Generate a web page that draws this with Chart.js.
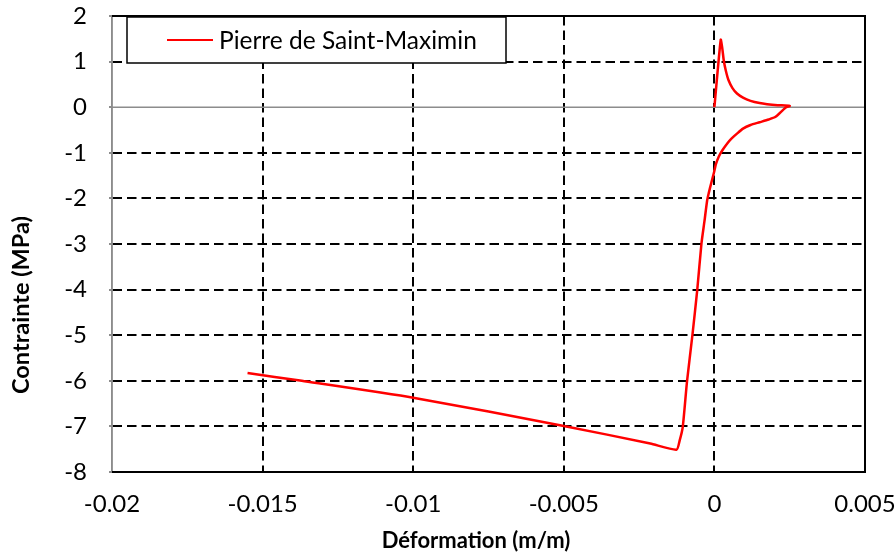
<!DOCTYPE html>
<html>
<head>
<meta charset="utf-8">
<script src="https://cdn.jsdelivr.net/npm/chart.js@4.4.1/dist/chart.umd.min.js"></script>
<style>
  body { margin: 0; background: #fff; }
  #wrap { width: 896px; height: 557px; position: relative; }
</style>
</head>
<body>
<div id="wrap"><canvas id="stressChart"></canvas></div>
<script>
// strain (m/m) and stress (MPa) in order
var seriesName = 'Pierre de Saint-Maximin';
var strain = [
    0, 0.00021, 0.00026, 0.00031, 0.00038, 0.00047, 0.0006, 0.00075, 0.00095, 0.0012,
    0.0015, 0.00175, 0.0021, 0.0025, 0.00236, 0.00203, 0.0018, 0.0015, 0.0012, 0.00095,
    0.00075, 0.00055, 0.00042, 0.00026, 0.00014, 0.00005, -0.00002, -0.0001, -0.00019, -0.00024,
    -0.00033, -0.00043, -0.00057, -0.00073, -0.00091, -0.00105, -0.00115, -0.00126, -0.00213, -0.005,
    -0.01, -0.0137, -0.0155
];
var stress = [
    0, 1.48, 1.3, 1.03, 0.8, 0.59, 0.42, 0.3, 0.21, 0.14,
    0.09, 0.066, 0.045, 0.03, -0.01, -0.21, -0.27, -0.33, -0.39, -0.47,
    -0.58, -0.7, -0.8, -0.95, -1.09, -1.25, -1.45, -1.65, -1.89, -2.04,
    -2.5, -2.99, -4.01, -5.0, -6.02, -7.01, -7.3, -7.51, -7.375, -6.99,
    -6.37, -6.0, -5.83
];
var xTickValues = [-0.02, -0.015, -0.01, -0.005, 0, 0.005];
var xTickLabels = ['-0.02', '-0.015', '-0.01', '-0.005', '0', '0.005'];
var yTickValues = [-8, -7, -6, -5, -4, -3, -2, -1, 0, 1, 2];
var xTitle = 'Déformation (m/m)';
var yTitle = 'Contrainte (MPa)';

var points = strain.map(function (x, i) { return { x: x, y: stress[i] }; });
var fontName = 'Lato, "Open Sans", sans-serif';
var gridDash = [9.5, 5];
var clear = 'rgba(0,0,0,0)';

// zero line, plot frame, legend box and axis titles
var decor = {
    id: 'decor',
    beforeDatasetsDraw: function (chart) {
        var ctx = chart.ctx, a = chart.chartArea;
        var y0 = chart.scales.y.getPixelForValue(0);
        ctx.save();
        ctx.strokeStyle = '#8c8c8c';
        ctx.lineWidth = 1.5;
        ctx.beginPath();
        ctx.moveTo(a.left, y0);
        ctx.lineTo(a.right, y0);
        ctx.moveTo(a.left, a.top);
        ctx.lineTo(a.left, a.bottom);
        ctx.stroke();
        ctx.strokeStyle = '#000';
        ctx.lineWidth = 2;
        ctx.beginPath();
        ctx.moveTo(a.left, a.top);
        ctx.lineTo(a.right, a.top);
        ctx.lineTo(a.right, a.bottom);
        ctx.lineTo(a.left, a.bottom);
        ctx.stroke();
        ctx.restore();
    },
    afterDatasetsDraw: function (chart) {
        var ctx = chart.ctx;
        ctx.save();
        ctx.fillStyle = '#fff';
        ctx.fillRect(127, 17, 379, 46);
        ctx.strokeStyle = '#000';
        ctx.lineWidth = 1.5;
        ctx.strokeRect(127, 17, 379, 46);
        ctx.strokeStyle = '#ff0000';
        ctx.lineWidth = 2;
        ctx.beginPath();
        ctx.moveTo(167, 40);
        ctx.lineTo(213, 40);
        ctx.stroke();
        ctx.fillStyle = '#000';
        ctx.font = '24.5px ' + fontName;
        ctx.textBaseline = 'middle';
        ctx.fillText(chart.data.datasets[0].label, 219, 41);

        ctx.font = 'bold 22px ' + fontName;
        ctx.textAlign = 'center';
        ctx.fillText(xTitle, 476, 541);
        ctx.font = 'bold 23.5px ' + fontName;
        ctx.translate(21, 305);
        ctx.rotate(-Math.PI / 2);
        ctx.fillText(yTitle, 0, 0);
        ctx.restore();
    }
};

var ctx = document.getElementById('stressChart').getContext('2d');
new Chart(ctx, {
    type: 'scatter',
    data: {
        datasets: [{
            label: seriesName,
            data: points,
            showLine: true,
            borderColor: '#ff0000',
            borderWidth: 2.5,
            pointRadius: 0,
            tension: 0.2,
            fill: false
        }]
    },
    plugins: [decor],
    options: {
        responsive: true,
        maintainAspectRatio: false,
        animation: false,
        layout: { padding: { left: 0, top: 16, right: 31, bottom: 0 } },
        plugins: {
            legend: { display: false },
            tooltip: { enabled: false }
        },
        scales: {
            x: {
                type: 'linear',
                min: -0.02,
                max: 0.005,
                afterFit: function (s) {
                    s.height = 85;
                    s.paddingLeft = 0;
                    s.paddingRight = 0;
                },
                afterBuildTicks: function (s) {
                    s.ticks = xTickValues.map(function (v) { return { value: v }; });
                },
                ticks: {
                    color: '#000',
                    font: { family: fontName, size: 24 },
                    padding: 18,
                    maxRotation: 0,
                    callback: function (value, index) { return xTickLabels[index]; }
                },
                grid: {
                    color: function (c) { return c.index === 0 ? clear : '#000'; },
                    lineWidth: 2,
                    drawTicks: false
                },
                border: { color: '#000', width: 2, dash: gridDash }
            },
            y: {
                type: 'linear',
                min: -8,
                max: 2,
                afterFit: function (s) {
                    s.width = 112;
                    s.paddingTop = 0;
                    s.paddingBottom = 0;
                },
                afterBuildTicks: function (s) {
                    s.ticks = yTickValues.map(function (v) { return { value: v }; });
                },
                ticks: {
                    color: '#000',
                    font: { family: fontName, size: 24 },
                    padding: 22
                },
                grid: {
                    color: function (c) { return c.tick && c.tick.value === 0 ? clear : '#000'; },
                    lineWidth: 2,
                    tickLength: 3,
                    tickColor: '#8c8c8c'
                },
                border: { color: '#8c8c8c', width: 1.5, dash: gridDash }
            }
        }
    }
});
</script>
</body>
</html>
